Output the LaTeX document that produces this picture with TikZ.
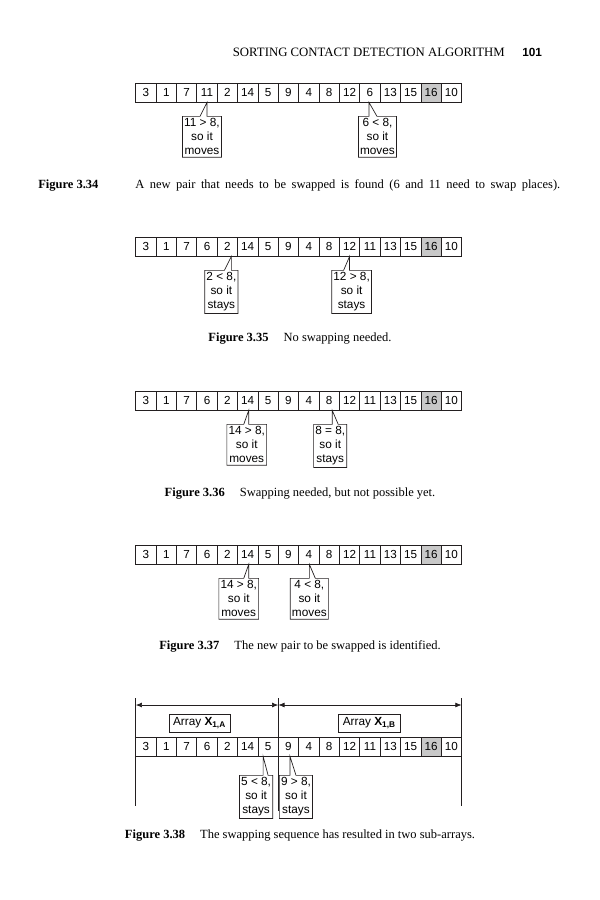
\documentclass[tikz,border=0pt]{standalone}
\usepackage{fontspec}
\setmainfont{Liberation Serif}
\setsansfont{Liberation Sans}
\usepackage{tikz}
\usetikzlibrary{arrows.meta, positioning, calc}
\definecolor{cellgray}{RGB}{200,200,200}
\definecolor{ink}{RGB}{35,31,32}

% one row of 16 cells, #1 name, #2 top y, #3 values
\newcommand{\cellrow}[3]{%
  \foreach \v [count=\i] in {#3} {%
    \ifnum\i=15 \def\cf{cellgray}\else\def\cf{white}\fi
    \node[cell, fill=\cf] (#1-\i) at ({135.7+20.37*(\i-0.5)},{#2+9.5}) {\v};
  }}
% callout under a cell: name, cell, tip shift, box shift, left foot, right foot, text
\newcommand{\callout}[7]{%
  \coordinate (#1-tip) at ($(#2.south)+(#3,0)$);
  \node[note, anchor=north] (#1) at ($(#1-tip)+(#4,\notegap)$) {#7};
  \coordinate (#1-a) at ($(#1-tip |- #1.north)+(#5,0)$);
  \coordinate (#1-b) at ($(#1-tip |- #1.north)+(#6,0)$);
  \draw[ink, line width=0.5pt] (#1.north west) -- (#1-a) -- (#1-tip) -- (#1-b)
    -- (#1.north east) -- (#1.south east) -- (#1.south west) -- cycle;
}
\def\notegap{14}

\begin{document}
\begin{tikzpicture}[x=0.72pt, y=-0.72pt,
    cell/.style={draw=ink, line width=0.5pt, minimum width=14.67pt, minimum height=13.68pt,
      inner sep=0pt, font=\sffamily\fontsize{8.4}{9}\selectfont},
    note/.style={align=center, inner xsep=1pt, inner ysep=1.5pt,
      font=\sffamily\fontsize{8.5}{10}\selectfont},
    tag/.style={draw=ink, line width=0.5pt, minimum width=44pt, minimum height=13pt,
      inner sep=1.5pt, font=\sffamily\fontsize{8.5}{10}\selectfont},
    captext/.style={font=\fontsize{9}{11}\selectfont},
    span/.style={ink, line width=0.5pt, {Latex[length=4.5pt,width=3.5pt]}-{Latex[length=4.5pt,width=3.5pt]}}]
  \useasboundingbox (0,0) rectangle (599,900);

  % running head
  \node[anchor=base east, inner xsep=0pt, font=\fontsize{9.2}{12}\selectfont] (head) at (505,56) {SORTING CONTACT DETECTION ALGORITHM};
  \node[anchor=base west, inner xsep=0pt, font=\sffamily\bfseries\fontsize{8.5}{11}\selectfont] (pageno) at (522,56) {101};

  % Figure 3.34
  \cellrow{r1}{83}{3,1,7,11,2,14,5,9,4,8,12,6,13,15,16,10}
  \callout{n1a}{r1-4}{0}{-5}{-7}{0}{11 > 8,\\so it\\moves}
  \callout{n1b}{r1-12}{-1}{8.5}{0}{8}{6 < 8,\\so it\\moves}
  \node[captext, anchor=base west, inner xsep=0pt] (cap1l) at (38,188) {\textbf{Figure 3.34}};
  \node[captext, anchor=base west, inner xsep=0pt] (cap1) at (135,188) {\makebox[306pt][s]{A new pair that needs to be swapped is found (6 and 11 need to swap places).}};

  % Figure 3.35
  \cellrow{r2}{237}{3,1,7,6,2,14,5,9,4,8,12,11,13,15,16,10}
  \callout{n2a}{r2-5}{4}{-10}{-7}{0}{2 < 8,\\so it\\stays}
  \callout{n2b}{r2-11}{0}{2}{-6}{0}{12 > 8,\\so it\\stays}
  \node[captext, anchor=base] (cap2) at (300,341) {\textbf{Figure 3.35}\hspace{1.2em}No swapping needed.};

  % Figure 3.36
  \cellrow{r3}{391}{3,1,7,6,2,14,5,9,4,8,12,11,13,15,16,10}
  \callout{n3a}{r3-6}{1}{-2}{-5}{0}{14 > 8,\\so it\\moves}
  \callout{n3b}{r3-10}{3}{-2}{0}{6}{8 = 8,\\so it\\stays}
  \node[captext, anchor=base] (cap3) at (300,496) {\textbf{Figure 3.36}\hspace{1.2em}Swapping needed, but not possible yet.};

  % Figure 3.37
  \cellrow{r4}{545}{3,1,7,6,2,14,5,9,4,8,12,11,13,15,16,10}
  \callout{n4a}{r4-6}{1}{-10}{-5}{0}{14 > 8,\\so it\\moves}
  \callout{n4b}{r4-9}{0.5}{0}{0}{6}{4 < 8,\\so it\\moves}
  \node[captext, anchor=base] (cap4) at (300,649) {\textbf{Figure 3.37}\hspace{1.2em}The new pair to be swapped is identified.};

  % Figure 3.38
  \coordinate (aL) at (135.7,705);
  \coordinate (aM) at (278.3,705);
  \coordinate (aR) at (461.6,705);
  \draw[ink, line width=0.5pt] ($(aL)+(0,-7)$) -- ($(aL)+(0,101)$);
  \draw[ink, line width=0.5pt] ($(aM)+(0,-7)$) -- ($(aM)+(0,106)$);
  \draw[ink, line width=0.5pt] ($(aR)+(0,-7)$) -- ($(aR)+(0,101)$);
  \draw[span] (aL) -- (aM);
  \draw[span] (aM) -- (aR);
  \node[tag] (xa) at (199.5,723) {Array \textbf{X}\textsubscript{\textbf{1,A}}};
  \node[tag] (xb) at (369.3,723) {Array \textbf{X}\textsubscript{\textbf{1,B}}};
  \def\notegap{19}
  \cellrow{r5}{737}{3,1,7,6,2,14,5,9,4,8,12,11,13,15,16,10}
  \callout{n5a}{r5-7}{-5}{-7}{0}{5}{5 < 8,\\so it\\stays}
  \callout{n5b}{r5-8}{1.5}{6}{0}{6}{9 > 8,\\so it\\stays}
  \node[captext, anchor=base] (cap5) at (300,838) {\textbf{Figure 3.38}\hspace{1.2em}The swapping sequence has resulted in two sub-arrays.};
\end{tikzpicture}
\end{document}
